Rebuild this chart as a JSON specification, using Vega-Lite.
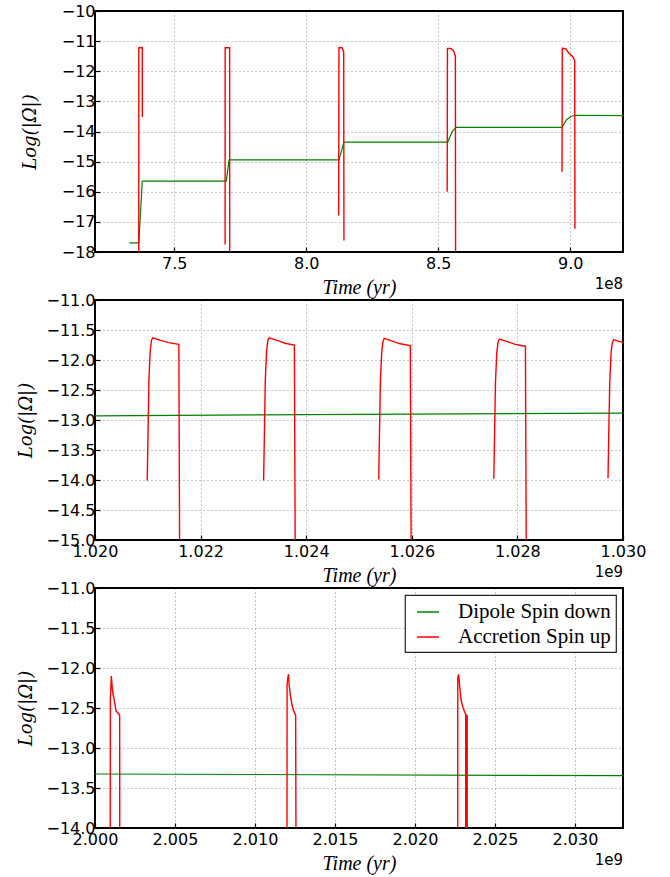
{
  "$schema": "https://vega.github.io/schema/vega-lite/v6.json",
  "background": "white",
  "padding": {"left": 16, "top": 2, "right": 5, "bottom": 5},
  "spacing": 48,
  "bounds": "flush",
  "resolve": {"scale": {"color": "independent"}, "legend": {"color": "independent"}},
  "config": {
    "view": {"stroke": "#000", "strokeWidth": 2},
    "axis": {
      "domain": false,
      "grid": true, "gridColor": "#000", "gridOpacity": 0.45, "gridDash": [1, 3], "gridWidth": 1,
      "ticks": true, "tickColor": "#000", "tickSize": -5, "tickWidth": 1.2,
      "labelFont": "DejaVu Sans", "labelFontSize": 16, "labelColor": "#000", "labelPadding": 8,
      "labelFlush": false, "labelOverlap": false,
      "titleFont": "Liberation Serif", "titleFontStyle": "italic", "titleFontWeight": "normal",
      "titleFontSize": 20, "titleColor": "#000"
    },
    "axisY": {"titleFont": "DejaVu Serif", "titleFontSize": 18, "labelPadding": 5},
    "legend": {
      "orient": "top-right", "offset": 7, "padding": 5,
      "fillColor": "white", "strokeColor": "#222", "strokeWidth": 1.2,
      "labelFont": "Liberation Serif", "labelFontSize": 21, "labelColor": "#000",
      "symbolType": "stroke", "symbolSize": 484, "symbolStrokeWidth": 1.5, "symbolOffset": 6,
      "labelOffset": 18, "rowPadding": 3
    }
  },
  "datasets": {
    "p1g": [
      {"t": 733000000, "v": -17.7},
      {"t": 736600000, "v": -17.7},
      {"t": 737900000, "v": -15.65},
      {"t": 769700000, "v": -15.65},
      {"t": 770800000, "v": -14.94},
      {"t": 812400000, "v": -14.94},
      {"t": 814300000, "v": -14.35},
      {"t": 853600000, "v": -14.35},
      {"t": 855300000, "v": -14.0},
      {"t": 856700000, "v": -13.86},
      {"t": 896900000, "v": -13.86},
      {"t": 898700000, "v": -13.6},
      {"t": 900300000, "v": -13.5},
      {"t": 901800000, "v": -13.46},
      {"t": 920000000, "v": -13.47}
    ],
    "p1r": [
      {"seg": 1, "t": 736570000, "v": -19},
      {"seg": 1, "t": 736600000, "v": -11.22},
      {"seg": 1, "t": 737900000, "v": -11.22},
      {"seg": 1, "t": 737930000, "v": -13.52},
      {"seg": 2, "t": 769270000, "v": -17.75},
      {"seg": 2, "t": 769300000, "v": -11.22},
      {"seg": 2, "t": 771000000, "v": -11.22},
      {"seg": 2, "t": 771030000, "v": -19},
      {"seg": 3, "t": 812300000, "v": -16.79},
      {"seg": 3, "t": 812400000, "v": -11.22},
      {"seg": 3, "t": 813600000, "v": -11.22},
      {"seg": 3, "t": 814200000, "v": -11.35},
      {"seg": 3, "t": 814300000, "v": -17.62},
      {"seg": 4, "t": 853400000, "v": -16.0},
      {"seg": 4, "t": 853500000, "v": -11.24},
      {"seg": 4, "t": 854700000, "v": -11.24},
      {"seg": 4, "t": 855800000, "v": -11.32},
      {"seg": 4, "t": 856500000, "v": -11.5},
      {"seg": 4, "t": 856600000, "v": -19},
      {"seg": 5, "t": 896900000, "v": -15.34},
      {"seg": 5, "t": 897000000, "v": -11.24},
      {"seg": 5, "t": 898300000, "v": -11.25},
      {"seg": 5, "t": 899500000, "v": -11.4},
      {"seg": 5, "t": 901000000, "v": -11.52},
      {"seg": 5, "t": 901700000, "v": -11.63},
      {"seg": 5, "t": 901800000, "v": -17.23}
    ],
    "p2g": [
      {"t": 1020000000, "v": -12.93},
      {"t": 1025000000, "v": -12.905},
      {"t": 1030000000, "v": -12.885}
    ],
    "p2r": [
      {"seg": 1, "t": 1020989000, "v": -14.01},
      {"seg": 1, "t": 1021005000, "v": -13.19},
      {"seg": 1, "t": 1021021000, "v": -12.35},
      {"seg": 1, "t": 1021045000, "v": -11.85},
      {"seg": 1, "t": 1021070000, "v": -11.67},
      {"seg": 1, "t": 1021094000, "v": -11.63},
      {"seg": 1, "t": 1021232000, "v": -11.67},
      {"seg": 1, "t": 1021394000, "v": -11.71},
      {"seg": 1, "t": 1021588000, "v": -11.74},
      {"seg": 1, "t": 1021604000, "v": -15.5},
      {"seg": 2, "t": 1023193000, "v": -14.01},
      {"seg": 2, "t": 1023209000, "v": -13.19},
      {"seg": 2, "t": 1023225000, "v": -12.35},
      {"seg": 2, "t": 1023250000, "v": -11.85},
      {"seg": 2, "t": 1023274000, "v": -11.67},
      {"seg": 2, "t": 1023298000, "v": -11.63},
      {"seg": 2, "t": 1023436000, "v": -11.67},
      {"seg": 2, "t": 1023598000, "v": -11.72},
      {"seg": 2, "t": 1023776000, "v": -11.75},
      {"seg": 2, "t": 1023793000, "v": -15.5},
      {"seg": 3, "t": 1025373000, "v": -13.99},
      {"seg": 3, "t": 1025389000, "v": -13.18},
      {"seg": 3, "t": 1025405000, "v": -12.36},
      {"seg": 3, "t": 1025430000, "v": -11.87},
      {"seg": 3, "t": 1025454000, "v": -11.69},
      {"seg": 3, "t": 1025478000, "v": -11.64},
      {"seg": 3, "t": 1025616000, "v": -11.68},
      {"seg": 3, "t": 1025778000, "v": -11.73},
      {"seg": 3, "t": 1025972000, "v": -11.76},
      {"seg": 3, "t": 1025989000, "v": -15.5},
      {"seg": 4, "t": 1027553000, "v": -13.98},
      {"seg": 4, "t": 1027569000, "v": -13.17},
      {"seg": 4, "t": 1027585000, "v": -12.37},
      {"seg": 4, "t": 1027609000, "v": -11.88},
      {"seg": 4, "t": 1027634000, "v": -11.7},
      {"seg": 4, "t": 1027658000, "v": -11.65},
      {"seg": 4, "t": 1027796000, "v": -11.69},
      {"seg": 4, "t": 1027958000, "v": -11.74},
      {"seg": 4, "t": 1028152000, "v": -11.77},
      {"seg": 4, "t": 1028169000, "v": -15.5},
      {"seg": 5, "t": 1029716000, "v": -13.97},
      {"seg": 5, "t": 1029732000, "v": -13.16},
      {"seg": 5, "t": 1029749000, "v": -12.38},
      {"seg": 5, "t": 1029773000, "v": -11.89},
      {"seg": 5, "t": 1029797000, "v": -11.71},
      {"seg": 5, "t": 1029822000, "v": -11.66},
      {"seg": 5, "t": 1029919000, "v": -11.69},
      {"seg": 5, "t": 1030100000, "v": -11.73}
    ],
    "p3g": [
      {"t": 2000000000, "v": -13.325},
      {"t": 2033000000, "v": -13.346}
    ],
    "p3r": [
      {"seg": 1, "t": 2000950000, "v": -14.5},
      {"seg": 1, "t": 2000960000, "v": -12.39},
      {"seg": 1, "t": 2001020000, "v": -12.1},
      {"seg": 1, "t": 2001060000, "v": -12.2},
      {"seg": 1, "t": 2001100000, "v": -12.29},
      {"seg": 1, "t": 2001150000, "v": -12.35},
      {"seg": 1, "t": 2001230000, "v": -12.43},
      {"seg": 1, "t": 2001280000, "v": -12.5},
      {"seg": 1, "t": 2001320000, "v": -12.54},
      {"seg": 1, "t": 2001420000, "v": -12.56},
      {"seg": 1, "t": 2001540000, "v": -12.59},
      {"seg": 1, "t": 2001550000, "v": -14.5},
      {"seg": 2, "t": 2012000000, "v": -14.5},
      {"seg": 2, "t": 2012005000, "v": -12.2},
      {"seg": 2, "t": 2012086000, "v": -12.075},
      {"seg": 2, "t": 2012139000, "v": -12.22},
      {"seg": 2, "t": 2012219000, "v": -12.35},
      {"seg": 2, "t": 2012299000, "v": -12.45},
      {"seg": 2, "t": 2012406000, "v": -12.53},
      {"seg": 2, "t": 2012540000, "v": -12.59},
      {"seg": 2, "t": 2012567000, "v": -14.5},
      {"seg": 3, "t": 2022670000, "v": -14.5},
      {"seg": 3, "t": 2022674000, "v": -12.12},
      {"seg": 3, "t": 2022727000, "v": -12.08},
      {"seg": 3, "t": 2022807000, "v": -12.26},
      {"seg": 3, "t": 2022888000, "v": -12.41},
      {"seg": 3, "t": 2022995000, "v": -12.49},
      {"seg": 3, "t": 2023102000, "v": -12.55},
      {"seg": 3, "t": 2023170000, "v": -12.58},
      {"seg": 3, "t": 2023170000, "v": -14.5},
      {"seg": 3, "t": 2023220000, "v": -14.5},
      {"seg": 3, "t": 2023220000, "v": -12.59},
      {"seg": 3, "t": 2023262000, "v": -12.6},
      {"seg": 3, "t": 2023262000, "v": -14.5}
    ]
  },
  "vconcat": [
    {
      "width": 528, "height": 241,
      "layer": [
        {
          "data": {"name": "p1g"},
          "mark": {"type": "line", "clip": true, "strokeWidth": 1.2},
          "encoding": {
            "x": {"field": "t", "type": "quantitative",
                  "scale": {"domain": [720000000, 920000000], "nice": false, "zero": false},
                  "axis": {"values": [750000000, 800000000, 850000000, 900000000], "tickCount": 30,
                           "labelExpr": "format(datum.value / 1e8, '.1f')",
                           "title": "Time (yr)", "titlePadding": 6}},
            "y": {"field": "v", "type": "quantitative",
                  "scale": {"domain": [-18, -10], "nice": false, "zero": false},
                  "axis": {"values": [-18, -17, -16, -15, -14, -13, -12, -11, -10], "tickCount": 30, "format": "d",
                           "title": "Log(|\u03a9\u0307|)", "titlePadding": 22}},
            "order": {"value": null},
            "color": {"datum": "Dipole Spin down", "type": "nominal",
                      "scale": {"domain": ["Dipole Spin down", "Accretion Spin up"], "range": ["#008000", "#ff0000"]},
                      "legend": null}
          }
        },
        {
          "data": {"name": "p1r"},
          "mark": {"type": "line", "clip": true, "strokeWidth": 1.4},
          "encoding": {
            "x": {"field": "t", "type": "quantitative"},
            "y": {"field": "v", "type": "quantitative"},
            "detail": {"field": "seg", "type": "nominal"},
            "order": {"value": null},
            "color": {"datum": "Accretion Spin up", "type": "nominal",
                      "scale": {"domain": ["Dipole Spin down", "Accretion Spin up"], "range": ["#008000", "#ff0000"]},
                      "legend": null}
          }
        },
        {
          "data": {"values": [{"label": "1e8"}]},
          "mark": {"type": "text", "align": "right", "baseline": "top", "dy": 25, "font": "DejaVu Sans", "fontSize": 15, "color": "#000"},
          "encoding": {
            "x": {"datum": 920000000, "type": "quantitative"},
            "y": {"datum": -18, "type": "quantitative"},
            "text": {"field": "label"}
          }
        }
      ]
    },
    {
      "width": 528, "height": 240,
      "layer": [
        {
          "data": {"name": "p2g"},
          "mark": {"type": "line", "clip": true, "strokeWidth": 1.2},
          "encoding": {
            "x": {"field": "t", "type": "quantitative",
                  "scale": {"domain": [1020000000, 1030000000], "nice": false, "zero": false},
                  "axis": {"values": [1020000000, 1022000000, 1024000000, 1026000000, 1028000000, 1030000000], "tickCount": 30,
                           "labelExpr": "format(datum.value / 1e9, '.3f')",
                           "title": "Time (yr)", "titlePadding": 6}},
            "y": {"field": "v", "type": "quantitative",
                  "scale": {"domain": [-15, -11], "nice": false, "zero": false},
                  "axis": {"values": [-15, -14.5, -14, -13.5, -13, -12.5, -12, -11.5, -11], "tickCount": 30, "format": ".1f",
                           "title": "Log(|\u03a9|)", "titlePadding": 10}},
            "order": {"value": null},
            "color": {"datum": "Dipole Spin down", "type": "nominal",
                      "scale": {"domain": ["Dipole Spin down", "Accretion Spin up"], "range": ["#008000", "#ff0000"]},
                      "legend": null}
          }
        },
        {
          "data": {"name": "p2r"},
          "mark": {"type": "line", "clip": true, "strokeWidth": 1.4},
          "encoding": {
            "x": {"field": "t", "type": "quantitative"},
            "y": {"field": "v", "type": "quantitative"},
            "detail": {"field": "seg", "type": "nominal"},
            "order": {"value": null},
            "color": {"datum": "Accretion Spin up", "type": "nominal",
                      "scale": {"domain": ["Dipole Spin down", "Accretion Spin up"], "range": ["#008000", "#ff0000"]},
                      "legend": null}
          }
        },
        {
          "data": {"values": [{"label": "1e9"}]},
          "mark": {"type": "text", "align": "right", "baseline": "top", "dy": 25, "font": "DejaVu Sans", "fontSize": 15, "color": "#000"},
          "encoding": {
            "x": {"datum": 1030000000, "type": "quantitative"},
            "y": {"datum": -15, "type": "quantitative"},
            "text": {"field": "label"}
          }
        }
      ]
    },
    {
      "width": 528, "height": 240,
      "layer": [
        {
          "data": {"name": "p3g"},
          "mark": {"type": "line", "clip": true, "strokeWidth": 1.2},
          "encoding": {
            "x": {"field": "t", "type": "quantitative",
                  "scale": {"domain": [2000000000, 2033000000], "nice": false, "zero": false},
                  "axis": {"values": [2000000000, 2005000000, 2010000000, 2015000000, 2020000000, 2025000000, 2030000000], "tickCount": 30,
                           "labelExpr": "format(datum.value / 1e9, '.3f')",
                           "title": "Time (yr)", "titlePadding": 6}},
            "y": {"field": "v", "type": "quantitative",
                  "scale": {"domain": [-14, -11], "nice": false, "zero": false},
                  "axis": {"values": [-14, -13.5, -13, -12.5, -12, -11.5, -11], "tickCount": 30, "format": ".1f",
                           "title": "Log(|\u03a9|)", "titlePadding": 10}},
            "order": {"value": null},
            "color": {"datum": "Dipole Spin down", "type": "nominal",
                      "scale": {"domain": ["Dipole Spin down", "Accretion Spin up"], "range": ["#008000", "#ff0000"]},
                      "legend": {"title": null}}
          }
        },
        {
          "data": {"name": "p3r"},
          "mark": {"type": "line", "clip": true, "strokeWidth": 1.4},
          "encoding": {
            "x": {"field": "t", "type": "quantitative"},
            "y": {"field": "v", "type": "quantitative"},
            "detail": {"field": "seg", "type": "nominal"},
            "order": {"value": null},
            "color": {"datum": "Accretion Spin up", "type": "nominal",
                      "scale": {"domain": ["Dipole Spin down", "Accretion Spin up"], "range": ["#008000", "#ff0000"]},
                      "legend": {"title": null}}
          }
        },
        {
          "data": {"values": [{"label": "1e9"}]},
          "mark": {"type": "text", "align": "right", "baseline": "top", "dy": 25, "font": "DejaVu Sans", "fontSize": 15, "color": "#000"},
          "encoding": {
            "x": {"datum": 2033000000, "type": "quantitative"},
            "y": {"datum": -14, "type": "quantitative"},
            "text": {"field": "label"}
          }
        }
      ]
    }
  ]
}
